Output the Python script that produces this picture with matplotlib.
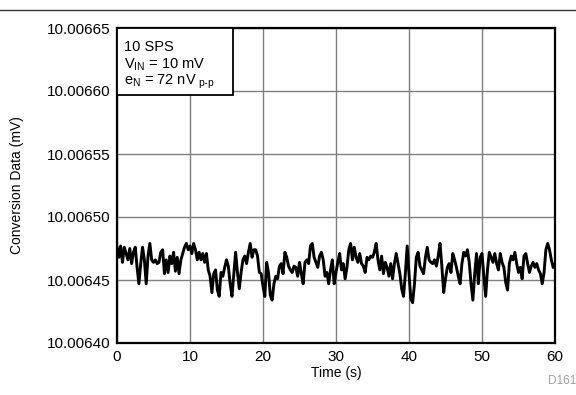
import matplotlib
matplotlib.use("Agg")
import matplotlib.pyplot as plt
import numpy as np
from matplotlib.lines import Line2D
from matplotlib.patches import Rectangle

plt.rcParams['font.family'] = ['Liberation Sans', 'DejaVu Sans']

# Conversion data, expressed as offset in nV above BASE_MV, sampled every 0.25 s
BASE_MV = 10.0064
STEP_S = 0.25
offset_nv = [
    76, 68, 77, 64, 76, 71, 66, 75, 63, 72, 76, 60, 47, 63, 76, 66,
    47, 69, 79, 66, 64, 66, 63, 64, 72, 74, 55, 66, 56, 69, 63, 72,
    57, 68, 55, 66, 71, 76, 79, 74, 77, 71, 79, 74, 66, 72, 66, 71,
    64, 71, 58, 53, 40, 55, 58, 42, 37, 56, 53, 60, 66, 61, 47, 37,
    55, 72, 56, 43, 56, 66, 69, 63, 72, 79, 68, 74, 74, 69, 56, 55,
    45, 37, 64, 56, 38, 34, 47, 53, 51, 61, 63, 55, 72, 68, 61, 58,
    56, 61, 60, 53, 64, 55, 47, 64, 66, 63, 77, 79, 68, 64, 60, 69,
    72, 66, 53, 56, 47, 58, 66, 47, 56, 64, 71, 58, 63, 51, 60, 74,
    79, 66, 76, 68, 64, 71, 63, 61, 56, 68, 66, 69, 68, 72, 79, 66,
    58, 69, 55, 64, 60, 53, 63, 51, 63, 71, 63, 55, 43, 37, 55, 77,
    55, 35, 32, 47, 68, 72, 61, 58, 55, 68, 76, 66, 64, 63, 66, 61,
    69, 79, 61, 40, 51, 60, 63, 56, 71, 66, 60, 53, 47, 63, 72, 69,
    74, 64, 47, 34, 55, 71, 47, 68, 71, 53, 37, 58, 72, 68, 64, 71,
    63, 58, 71, 64, 60, 48, 42, 63, 69, 66, 72, 63, 56, 60, 51, 69,
    71, 63, 56, 61, 64, 60, 63, 58, 55, 47, 56, 74, 79, 74, 66, 60,
    63,
]
time_s = np.arange(len(offset_nv)) * STEP_S
data_mv = BASE_MV + np.array(offset_nv) * 1e-6

x_ticks = [0, 10, 20, 30, 40, 50, 60]
y_ticks = [10.0064, 10.00645, 10.0065, 10.00655, 10.0066, 10.00665]
y_tick_labels = ["10.00640", "10.00645", "10.00650", "10.00655", "10.00660", "10.00665"]

fig = plt.figure(figsize=(5.76, 3.95), dpi=100)
ax = fig.add_axes([117/576, 1-343/395, (555-117)/576, (343-28)/395])

ax.plot(time_s, data_mv, color='black', lw=2.1, solid_joinstyle='round', zorder=3)

ax.set_xlim(0, 60)
ax.set_ylim(10.0064, 10.00665)
ax.set_xticks(x_ticks)
ax.set_xticklabels([str(v) for v in x_ticks])
ax.set_yticks(y_ticks)
ax.set_yticklabels(y_tick_labels)
ax.tick_params(length=0, labelsize=11, pad=5, colors='black')
ax.grid(True, color='#7f7f7f', lw=1.0)
ax.set_axisbelow(True)
for s in ax.spines.values():
    s.set_linewidth(1.6)
    s.set_color('black')

ax.set_xlabel("Time (s)", fontsize=10)
ax.set_ylabel("Conversion Data (mV)", fontsize=10)
ax.yaxis.set_label_coords((24-117)/438, 0.5)
ax.xaxis.set_label_coords(0.5, (343-366)/315)

# annotation box
box = Rectangle((0, 1 - (95-28)/315), (233-117)/438, (95-28)/315, transform=ax.transAxes,
                facecolor='white', edgecolor='black', lw=1.3, zorder=4)
ax.add_patch(box)
lines = ["10 SPS",
         r"V$_\mathregular{IN}$ = 10 mV",
         r"e$_\mathregular{N}$ = 72 nV$_\mathregular{\ p\text{-}p}$"]
for i, s in enumerate(lines):
    ax.text(7/438, 1 - (19 + 17.5*i)/315, s, transform=ax.transAxes, fontsize=10.5,
            va='center', ha='left', zorder=5)

fig.add_artist(Line2D([0, 1], [1-10/395, 1-10/395], color='#333333', lw=1.0))
fig.text(548/576, 1-381/395, "D161", color='#a0a0a0', fontsize=8.5, ha='left', va='center')

fig.savefig("out.png", dpi=100)
